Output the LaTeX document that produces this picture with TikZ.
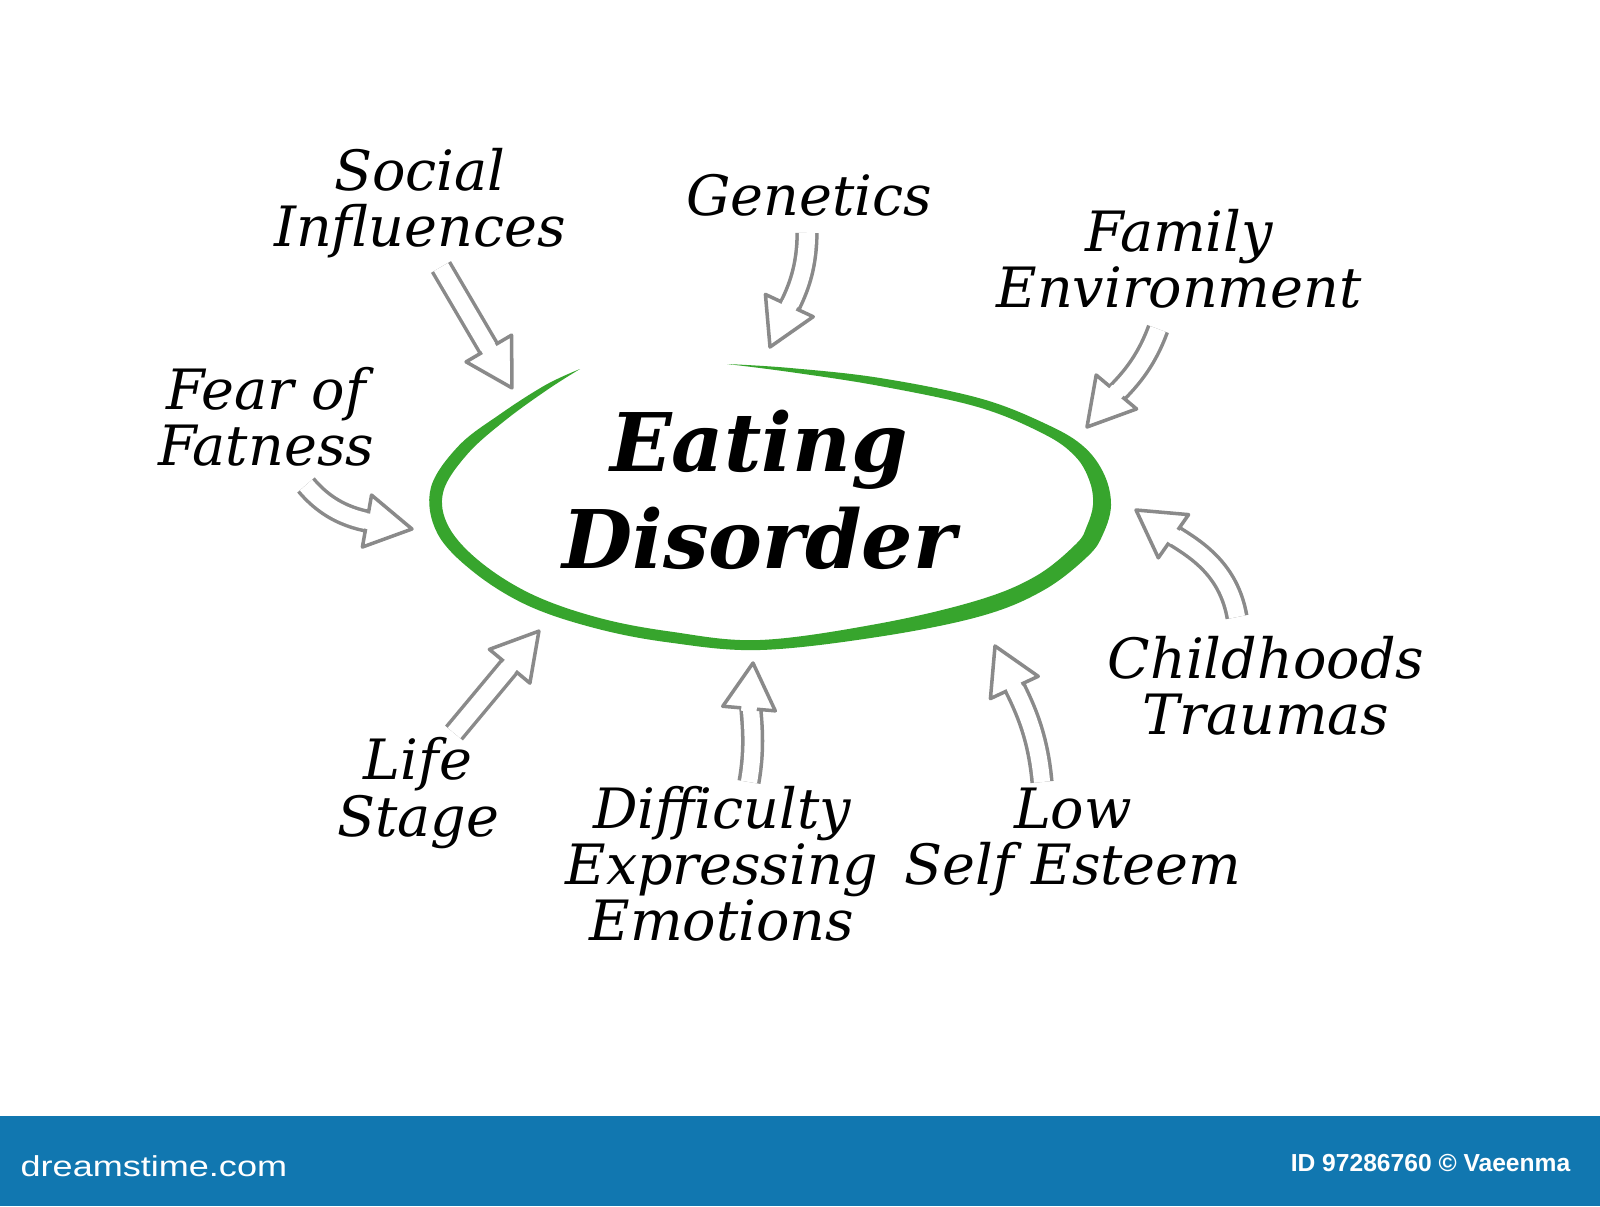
\documentclass[tikz,border=0pt]{standalone}
\usepackage{fontspec}
\setmainfont{DejaVu Serif}
\newfontfamily\marcafont{Liberation Sans}
\usetikzlibrary{decorations.markings}

\definecolor{verde}{RGB}{55,165,45}
\definecolor{gris}{RGB}{138,138,138}
\definecolor{azul}{RGB}{17,119,176}

\tikzset{
  causa/.style={font=\fontsize{15.8}{16}\selectfont\itshape, align=center, inner sep=0pt},
  centro/.style={font=\fontsize{23}{27.5}\selectfont\bfseries\itshape, align=center, inner sep=0pt},
  marca/.style={font=\marcafont, text=white, inner sep=0pt},
  flecha/.style={draw=gris, line width=1pt, double=white, double distance=4.6pt, shorten >=8pt,
    postaction={decorate, decoration={markings, mark=at position 1 with {
      \draw[gris, line width=1pt, fill=white, line join=round, shorten >=0pt]
        (-13pt,7.5pt) -- (0pt,0pt) -- (-13pt,-7.5pt) -- cycle;
      \draw[white, line width=1.6pt, shorten >=0pt] (-13pt,2.2pt) -- (-13pt,-2.2pt);
    }}}},
}

\begin{document}
\begin{tikzpicture}[x=0.01cm, y=0.01cm]
    % Fondo blanco con el tamaño de la imagen.
    \path[use as bounding box, fill=white] (0,0) rectangle (1600,-1206);

    % Dibuja el óvalo verde abierto por arriba, con las puntas afiladas.
    \fill[verde] plot[smooth, tension=0.6] coordinates {
        (727,-364) (790.2,-368) (880.7,-378.1) (981.2,-398.7) (1049.2,-425.5)
        (1084.5,-447.3) (1104.4,-474.9) (1111,-505.3) (1103.2,-533.7) (1087.9,-556.1)
        (1044,-590) (982.3,-615.7) (881.1,-636.4) (760.2,-650) (669.3,-642.5)
        (595.6,-628.3) (527.5,-605.4) (473.2,-571.7) (437.2,-533) (430.7,-488.4)
        (458.5,-446) (500.6,-413.8) (545.7,-384.9) (580,-369)}
      -- plot[smooth, tension=0.6] coordinates {
        (580,-369) (548.3,-389.1) (505.4,-420.2) (467.5,-454) (443.3,-491.6)
        (448.8,-527) (480.8,-562.3) (532.5,-594.6) (598.4,-617.7) (670.7,-631.6)
        (759.8,-640) (878.9,-623.6) (977.7,-600.3) (1036,-576) (1076.1,-543.9)
        (1086.8,-526.3) (1093,-504.7) (1089.6,-481.1) (1075.5,-456.7) (1044.8,-434.5)
        (978.8,-407.3) (879.3,-385.9) (789.8,-372) (727,-364)} -- cycle;

    % Texto central.
    \node[centro] (trastorno) at (759,-490) {Eating\\Disorder};

    % Causas alrededor del óvalo.
    \node[causa] (social) at (420,-203) {Social\\Influences};
    \node[causa] (genetica) at (809,-195) {Genetics};
    \node[causa] (familia) at (1179,-259) {Family\\Environment};
    \node[causa] (miedo) at (266,-417) {Fear of\\Fatness};
    \node[causa] (infancia) at (1266,-686) {Childhoods\\Traumas};
    \node[causa] (etapa) at (418,-793) {Life\\Stage};
    \node[causa] (emociones) at (722,-864) {Difficulty\\Expressing\\Emotions};
    \node[causa] (autoestima) at (1073,-842) {Low\\Self Esteem};

    % Extremos de las flechas.
    \coordinate (social-a) at (441,-267);
    \coordinate (social-b) at (512,-388);
    \coordinate (genetica-a) at (807,-233);
    \coordinate (genetica-b) at (770,-347);
    \coordinate (familia-a) at (1158,-329);
    \coordinate (familia-b) at (1087,-427);
    \coordinate (miedo-a) at (306,-485);
    \coordinate (miedo-b) at (412,-529);
    \coordinate (infancia-a) at (1237,-617);
    \coordinate (infancia-b) at (1136,-510);
    \coordinate (etapa-a) at (454,-733);
    \coordinate (etapa-b) at (539,-631);
    \coordinate (emociones-a) at (749,-782);
    \coordinate (emociones-b) at (753,-663);
    \coordinate (autoestima-a) at (1042,-782);
    \coordinate (autoestima-b) at (995,-646);

    % Dibuja las flechas huecas hacia el óvalo.
    \draw[flecha] (social-a) -- (social-b);
    \draw[flecha] (genetica-a) to[out=-90, in=65] (genetica-b);
    \draw[flecha] (familia-a) to[out=-110, in=50] (familia-b);
    \draw[flecha] (miedo-a) to[out=-50, in=170] (miedo-b);
    \draw[flecha] (infancia-a) to[out=100, in=-35] (infancia-b);
    \draw[flecha] (etapa-a) -- (etapa-b);
    \draw[flecha] (emociones-a) to[out=80, in=-95] (emociones-b);
    \draw[flecha] (autoestima-a) to[out=95, in=-65] (autoestima-b);

    % Franja inferior con la marca.
    \fill[azul] (0,-1116) rectangle (1600,-1206);
    \node[marca, anchor=west] (sitio) at (20,-1166)
        {\fontsize{8.2}{9}\selectfont\scalebox{1.25}[1]{dreamstime.com}};
    \node[marca, anchor=east] (autor) at (1571,-1163)
        {\fontsize{7}{8}\selectfont\bfseries ID 97286760 © Vaeenma};
\end{tikzpicture}
\end{document}
